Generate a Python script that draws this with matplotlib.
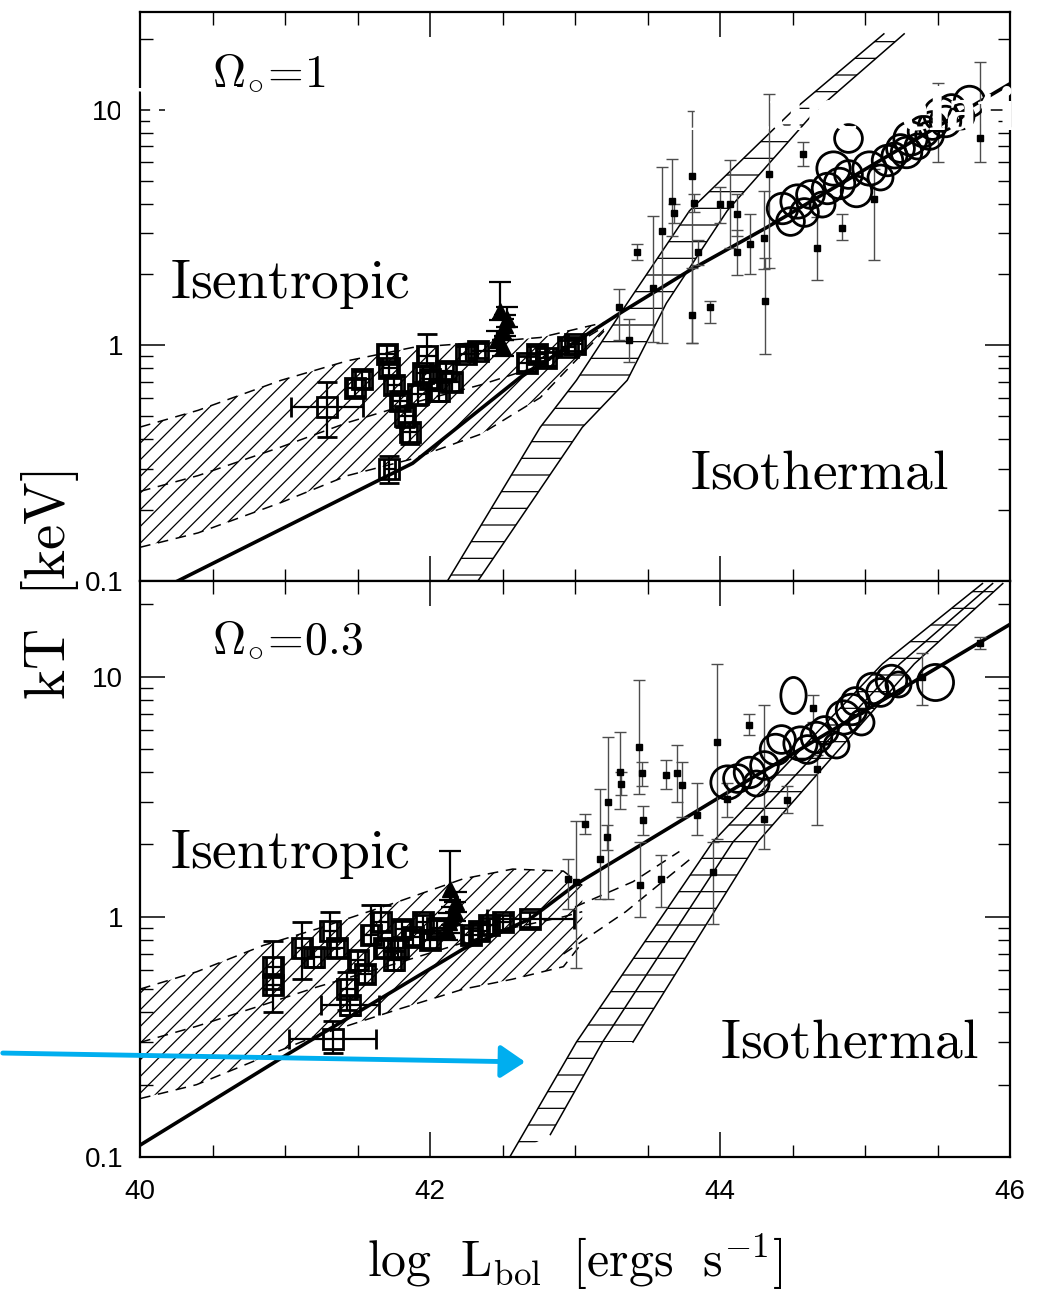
import numpy as np
import matplotlib
matplotlib.use("Agg")
import matplotlib.pyplot as plt
from matplotlib.ticker import MultipleLocator, LogLocator, NullFormatter
from matplotlib.patches import FancyArrowPatch, Polygon
from matplotlib.path import Path
from matplotlib.transforms import Affine2D

plt.rcParams['mathtext.fontset'] = 'cm'
plt.rcParams['hatch.linewidth'] = 0.9
tickfont = ['Liberation Sans Narrow', 'Liberation Sans', 'DejaVu Sans']

# ---------------- top panel (Omega_0 = 1) ----------------
fit_top_L = [40.26, 41.88, 42.62, 43.31, 43.79, 44.32, 46.0]
fit_top_T = [0.10, 0.316, 0.73, 1.37, 2.08, 3.16, 12.9]

ise_top_L = [40.0, 40.4, 40.97, 41.43, 41.88, 42.35, 42.76, 43.2]
ise_top_hi = [0.45, 0.53, 0.71, 0.86, 0.98, 1.03, 1.08, 1.25]
ise_top_mid = [0.24, 0.28, 0.37, 0.47, 0.57, 0.68, 0.82, 1.2]
ise_top_lo = [0.139, 0.16, 0.215, 0.28, 0.33, 0.42, 0.60, 1.15]

iso_top_T = [0.1, 0.449, 0.711, 1.51, 3.73, 9.9, 21.0]
iso_top_left = [42.12, 42.76, 43.01, 43.36, 43.79, 44.50, 45.13]
iso_top_right = [42.33, 43.05, 43.36, 43.63, 44.05, 44.66, 45.27]

sq_top_L = [41.29, 41.48, 41.53, 41.70, 41.72, 41.75, 41.79, 41.83, 41.86, 41.72, 41.98, 42.00,
            42.06, 42.11, 42.15, 41.92, 41.95, 42.25, 42.33, 42.67, 42.74, 42.80, 42.95, 43.00]
sq_top_T = [0.55, 0.66, 0.72, 0.92, 0.80, 0.68, 0.58, 0.50, 0.43, 0.30, 0.90, 0.72,
            0.64, 0.78, 0.70, 0.62, 0.76, 0.92, 0.95, 0.84, 0.92, 0.88, 0.98, 1.01]
sq_top_xerr = [0.25, 0.05, 0.05, 0.06, 0.05, 0.05, 0.05, 0.05, 0.05, 0.04, 0.06, 0.05,
               0.05, 0.05, 0.05, 0.05, 0.05, 0.05, 0.05, 0.06, 0.05, 0.05, 0.05, 0.05]
sq_top_lo = [0.41, 0.61, 0.66, 0.84, 0.74, 0.62, 0.53, 0.45, 0.38, 0.26, 0.82, 0.66,
             0.58, 0.72, 0.64, 0.56, 0.70, 0.86, 0.88, 0.78, 0.86, 0.82, 0.92, 0.95]
sq_top_hi = [0.70, 0.72, 0.78, 1.00, 0.86, 0.74, 0.63, 0.55, 0.47, 0.34, 1.12, 0.78,
             0.70, 0.84, 0.76, 0.68, 0.82, 0.99, 1.02, 0.90, 0.99, 0.94, 1.05, 1.08]

tri_top_L = [42.46, 42.50, 42.53, 42.48, 42.52, 42.50]
tri_top_T = [1.05, 1.15, 1.30, 1.40, 1.22, 0.98]
tri_top_lo = [0.95, 1.05, 1.20, 1.28, 1.10, 0.90]
tri_top_hi = [1.15, 1.30, 1.45, 1.85, 1.35, 1.05]

pt_top_L = [43.30, 43.37, 43.43, 43.54, 43.60, 43.67, 43.68, 43.81, 43.82, 43.81, 43.85, 43.93, 44.00,
            44.07, 44.12, 44.12, 44.21, 44.30, 44.31, 44.34, 44.57, 44.67, 44.84, 45.06, 45.50, 45.79]
pt_top_T = [1.45, 1.05, 2.48, 1.76, 3.07, 4.12, 3.66, 5.25, 4.04, 1.34, 2.48, 1.45, 4.0,
            4.0, 3.6, 2.48, 2.7, 2.87, 1.55, 5.35, 6.5, 2.6, 3.16, 4.2, 9.0, 7.6]
pt_top_lo = [1.05, 0.85, 2.3, 1.03, 1.02, 2.9, 3.3, 1.02, 3.7, 1.02, 2.2, 1.24, 3.3,
             2.6, 2.9, 1.98, 2.0, 2.1, 0.92, 2.14, 5.8, 1.9, 2.8, 2.3, 6.0, 6.0]
pt_top_hi = [1.74, 1.3, 2.7, 3.55, 5.7, 6.2, 4.0, 9.9, 4.4, 2.14, 2.8, 1.55, 4.7,
             6.1, 4.4, 3.1, 3.6, 4.5, 2.36, 11.7, 7.3, 3.5, 3.6, 5.6, 13.0, 16.0]

circ_top_L = [44.43, 44.48, 44.53, 44.62, 44.70, 44.74, 44.78, 44.88, 44.94, 45.03, 45.10,
              45.15, 45.24, 45.31, 45.36, 45.40, 45.46, 45.52, 45.59, 45.66, 45.72, 44.88,
              44.58, 44.82, 45.20, 45.28, 45.44, 45.55]
circ_top_T = [3.84, 3.38, 4.12, 4.4, 4.0, 4.67, 5.67, 5.35, 4.5, 5.67, 5.2,
              6.1, 6.9, 7.6, 7.0, 8.1, 8.6, 9.6, 10.2, 9.4, 10.9, 7.6,
              3.7, 4.9, 6.4, 6.6, 7.8, 9.0]
circ_top_size = [22, 20, 24, 20, 18, 22, 24, 20, 22, 24, 18, 22, 20, 24, 18, 22, 20, 24, 20, 18, 22, 20,
                 20, 22, 18, 22, 20, 22]

# ---------------- bottom panel (Omega_0 = 0.3) ----------------
fit_bot_L = [40.0, 41.01, 42.23, 42.69, 43.01, 43.98, 46.0]
fit_bot_T = [0.112, 0.266, 0.735, 0.98, 1.37, 3.1, 16.5]

ise_bot_L = [40.0, 40.39, 40.85, 41.22, 41.77, 42.23, 42.57, 42.92, 43.05]
ise_bot_hi = [0.50, 0.59, 0.76, 0.89, 1.15, 1.44, 1.58, 1.55, 1.35]
ise_bot_mid = [0.30, 0.35, 0.43, 0.51, 0.64, 0.78, 0.90, 1.00, 1.05]
ise_bot_lo = [0.175, 0.20, 0.26, 0.32, 0.41, 0.50, 0.55, 0.62, 0.78]
ise_bot_ext1_L = [42.92, 43.35, 43.80]
ise_bot_ext1_T = [0.70, 1.05, 1.75]
ise_bot_ext2_L = [43.00, 43.40, 43.72]
ise_bot_ext2_T = [1.10, 1.40, 1.87]

iso_bot_T = [0.1, 0.301, 2.05, 11.3, 24.4]
iso_bot_left = [42.55, 43.01, 43.95, 45.12, 45.81]
iso_bot_mid_T = [0.124, 0.301, 2.05, 11.3, 24.4]
iso_bot_mid_L = [42.83, 43.19, 44.09, 45.24, 45.88]
iso_bot_right_T = [0.301, 2.05, 11.3, 24.4]
iso_bot_right_L = [43.40, 44.26, 45.34, 45.95]

sq_bot_L = [40.92, 40.92, 41.12, 41.31, 41.36, 41.43, 41.33, 41.45, 41.59, 41.66, 41.68, 41.78,
            41.81, 41.95, 42.00, 42.05, 41.50, 41.55, 42.34, 42.41, 42.50, 42.69, 41.20, 41.75,
            41.88, 42.28]
sq_bot_T = [0.62, 0.52, 0.74, 0.87, 0.74, 0.50, 0.31, 0.43, 0.84, 0.95, 0.74, 0.74,
            0.89, 0.95, 0.80, 0.90, 0.66, 0.58, 0.87, 0.92, 0.95, 0.98, 0.68, 0.66,
            0.82, 0.84]
sq_bot_xerr = [0.05, 0.05, 0.05, 0.05, 0.05, 0.05, 0.30, 0.20, 0.05, 0.05, 0.05, 0.05,
               0.05, 0.05, 0.05, 0.05, 0.05, 0.05, 0.05, 0.05, 0.05, 0.30, 0.05, 0.05,
               0.05, 0.05]
sq_bot_lo = [0.50, 0.40, 0.55, 0.74, 0.68, 0.41, 0.27, 0.39, 0.77, 0.87, 0.68, 0.68,
             0.82, 0.88, 0.74, 0.83, 0.60, 0.53, 0.80, 0.85, 0.88, 0.91, 0.62, 0.60,
             0.76, 0.78]
sq_bot_hi = [0.79, 0.58, 0.95, 1.05, 0.80, 0.59, 0.37, 0.47, 1.12, 1.12, 0.80, 0.80,
             0.96, 1.02, 0.86, 0.97, 0.72, 0.63, 0.94, 0.99, 1.02, 1.05, 0.74, 0.72,
             0.88, 0.90]

tri_bot_L = [42.12, 42.15, 42.18, 42.14, 42.17, 42.13]
tri_bot_T = [0.88, 1.00, 1.15, 1.30, 1.05, 0.95]
tri_bot_lo = [0.80, 0.92, 1.05, 1.18, 0.96, 0.86]
tri_bot_hi = [0.96, 1.10, 1.27, 1.87, 1.15, 1.04]

pt_bot_L = [42.95, 43.01, 43.07, 43.17, 43.22, 43.23, 43.31, 43.32, 43.44, 43.46, 43.47, 43.45, 43.59,
            43.63, 43.70, 43.74, 43.84, 43.95, 43.98, 44.05, 44.20, 44.30, 44.46, 44.64, 44.67, 45.39, 45.79]
pt_bot_T = [1.44, 1.40, 2.44, 1.74, 2.15, 3.01, 4.02, 3.58, 5.1, 3.95, 2.53, 1.36, 1.44,
            3.9, 3.95, 3.55, 2.66, 1.54, 5.36, 3.1, 6.3, 2.56, 3.07, 7.4, 4.14, 10.0, 13.8]
pt_bot_lo = [1.08, 0.61, 2.22, 1.19, 1.9, 1.19, 2.8, 3.2, 3.25, 3.5, 2.2, 1.0, 1.1,
             3.4, 3.0, 2.6, 2.2, 0.93, 2.1, 2.6, 5.7, 1.92, 2.7, 6.5, 2.4, 7.6, 13.0]
pt_bot_hi = [1.74, 2.5, 2.68, 3.4, 2.4, 5.6, 5.9, 4.0, 9.7, 4.4, 2.9, 2.05, 1.8,
             4.5, 5.2, 4.4, 3.6, 2.05, 11.3, 3.6, 7.0, 7.6, 3.5, 8.4, 4.7, 12.5, 14.6]

circ_bot_L = [44.05, 44.12, 44.20, 44.25, 44.30, 44.38, 44.42, 44.55, 44.60, 44.66, 44.72,
              44.80, 44.85, 44.90, 44.93, 44.97, 45.05, 45.10, 45.18, 45.23, 45.48]
circ_bot_T = [3.65, 3.8, 4.0, 3.6, 4.3, 5.0, 5.5, 5.3, 5.0, 5.6, 6.0,
              5.2, 6.8, 7.3, 7.9, 6.5, 9.0, 8.6, 9.7, 9.3, 9.5]
circ_bot_size = [24, 20, 22, 18, 20, 22, 20, 24, 20, 22, 20, 18, 24, 22, 20, 18, 22, 20, 22, 18, 26]
oval_bot_L = [44.50]
oval_bot_T = [8.4]

y_ticks = [0.1, 1, 10]
y_ticklabels = ['0.1', '1', '10']
x_ticks = [40, 42, 44, 46]


def err(T, lo, hi):
    T, lo, hi = np.array(T), np.array(lo), np.array(hi)
    return [T - lo, hi - T]


def style_axis(ax, ytop):
    ax.set_yscale('log')
    ax.set_xlim(40, 46)
    ax.set_ylim(0.1, ytop)
    ax.set_xticks(x_ticks)
    ax.xaxis.set_minor_locator(MultipleLocator(0.5))
    ax.set_yticks(y_ticks, y_ticklabels)
    ax.yaxis.set_minor_locator(LogLocator(subs=np.arange(2, 10)))
    ax.yaxis.set_minor_formatter(NullFormatter())
    ax.tick_params(which='both', direction='in', top=True, right=True, color='k')
    ax.tick_params(which='major', length=18, width=1.1)
    ax.tick_params(which='minor', length=9, width=1.0)
    ax.tick_params(axis='y', pad=12)
    ax.tick_params(axis='x', pad=16)
    for lab in ax.get_xticklabels() + ax.get_yticklabels():
        lab.set_family(tickfont)
        lab.set_fontsize(20)
    for s in ax.spines.values():
        s.set_linewidth(1.6)


def draw_isentropic(ax, L, lo, mid, hi):
    ax.fill_between(L, lo, hi, facecolor='none', edgecolor='k', hatch='//', lw=0, zorder=1)
    for y in (lo, mid, hi):
        ax.plot(L, y, color='k', lw=1.1, ls=(0, (7, 5)), zorder=2)


def draw_points(ax, sqL, sqT, sqx, sqlo, sqhi, tL, tT, tlo, thi, pL, pT, plo, phi, cL, cT, cs):
    ax.errorbar(pL, pT, yerr=err(pT, plo, phi), fmt='s', ms=4, color='k', ecolor='0.3',
                elinewidth=1.0, capsize=4, capthick=1.0, zorder=4)
    ax.errorbar(sqL, sqT, xerr=sqx, yerr=err(sqT, sqlo, sqhi), fmt='s', ms=15, mfc='none',
                mec='k', mew=2.0, ecolor='k', elinewidth=1.6, capsize=7, capthick=1.6, zorder=5)
    ax.errorbar(tL, tT, yerr=err(tT, tlo, thi), fmt='^', ms=12, color='k', ecolor='k',
                elinewidth=1.6, capsize=8, capthick=1.6, zorder=5)
    for x, y, s in zip(cL, cT, cs):
        ax.plot(x, y, 'o', ms=s, mfc='none', mec='k', mew=2.0, zorder=5)


fig = plt.figure(figsize=(10.47, 12.91), dpi=100)
ax_top = fig.add_axes([0.13372, 0.54996, 0.83095, 0.44074])
ax_bot = fig.add_axes([0.13372, 0.10380, 0.83095, 0.44616])

# ---- top panel
ax = ax_top
draw_isentropic(ax, ise_top_L, ise_top_lo, ise_top_mid, ise_top_hi)
poly = list(zip(iso_top_left, iso_top_T)) + list(zip(iso_top_right[::-1], iso_top_T[::-1]))
ax.add_patch(Polygon(poly, closed=True, facecolor='none', edgecolor='k', hatch='-', lw=0, zorder=1))
ax.plot(iso_top_left, iso_top_T, color='k', lw=1.1, zorder=2)
ax.plot(iso_top_right, iso_top_T, color='k', lw=1.1, zorder=2)
ax.plot(fit_top_L, fit_top_T, color='k', lw=2.6, zorder=3)
draw_points(ax, sq_top_L, sq_top_T, sq_top_xerr, sq_top_lo, sq_top_hi,
            tri_top_L, tri_top_T, tri_top_lo, tri_top_hi,
            pt_top_L, pt_top_T, pt_top_lo, pt_top_hi, circ_top_L, circ_top_T, circ_top_size)
style_axis(ax, 26)
ax.tick_params(axis='x', labelbottom=False)
ax.text(0.083, 0.872, r'$\Omega_{\circ}\!=\!1$', transform=ax.transAxes, fontsize=33, va='baseline')
ax.text(0.0345, 0.497, r'$\mathrm{Isentropic}$', transform=ax.transAxes, fontsize=40, va='baseline')
ax.text(0.632, 0.163, r'$\mathrm{Isothermal}$', transform=ax.transAxes, fontsize=40, va='baseline')

# ---- bottom panel
ax = ax_bot
draw_isentropic(ax, ise_bot_L, ise_bot_lo, ise_bot_mid, ise_bot_hi)
ax.plot(ise_bot_ext1_L, ise_bot_ext1_T, color='k', lw=1.1, ls=(0, (7, 5)), zorder=2)
ax.plot(ise_bot_ext2_L, ise_bot_ext2_T, color='k', lw=1.1, ls=(0, (7, 5)), zorder=2)
poly = (list(zip(iso_bot_left, iso_bot_T)) + list(zip(iso_bot_right_L[::-1], iso_bot_right_T[::-1]))
        + list(zip(iso_bot_mid_L[1::-1], iso_bot_mid_T[1::-1])))
ax.add_patch(Polygon(poly, closed=True, facecolor='none', edgecolor='k', hatch='-', lw=0, zorder=1))
ax.plot(iso_bot_left, iso_bot_T, color='k', lw=1.1, zorder=2)
ax.plot(iso_bot_mid_L, iso_bot_mid_T, color='k', lw=1.1, zorder=2)
ax.plot(iso_bot_right_L, iso_bot_right_T, color='k', lw=1.1, zorder=2)
ax.plot(fit_bot_L, fit_bot_T, color='k', lw=2.6, zorder=3)
draw_points(ax, sq_bot_L, sq_bot_T, sq_bot_xerr, sq_bot_lo, sq_bot_hi,
            tri_bot_L, tri_bot_T, tri_bot_lo, tri_bot_hi,
            pt_bot_L, pt_bot_T, pt_bot_lo, pt_bot_hi, circ_bot_L, circ_bot_T, circ_bot_size)
oval = Path.unit_circle().transformed(Affine2D().scale(0.7, 1.0))
ax.plot(oval_bot_L, oval_bot_T, ls='none', marker=oval, ms=26, mfc='none', mec='k', mew=2.0, zorder=5)
style_axis(ax, 25)
ax.text(0.083, 0.877, r'$\Omega_{\circ}\!=\!0.3$', transform=ax.transAxes, fontsize=33, va='baseline')
ax.text(0.0345, 0.502, r'$\mathrm{Isentropic}$', transform=ax.transAxes, fontsize=40, va='baseline')
ax.text(0.667, 0.172, r'$\mathrm{Isothermal}$', transform=ax.transAxes, fontsize=40, va='baseline')

fig.text(50 / 1047, 1 - 585 / 1291, r'$\mathrm{kT\ \ [keV]}$', rotation=90, fontsize=41,
         ha='center', va='center')
fig.text(575 / 1047, 1 - 1262 / 1291, r'$\mathrm{log\ \ L_{bol}\ \ [ergs\ \ s^{-1}]}$', fontsize=36,
         ha='center', va='center')

# overlaid white title text (partly hidden, as in the source image)
fig.text(104 / 1047, 1 - 130 / 1291, 'The luminosity-temperature relation', color='white',
         fontsize=45, fontweight='bold', family='Liberation Serif', ha='left', va='baseline', zorder=20)

arrow = FancyArrowPatch((0.0, 1 - 1053 / 1291), (528 / 1047, 1 - 1062 / 1291), transform=fig.transFigure,
                        arrowstyle='-|>,head_length=0.6,head_width=0.4', mutation_scale=25,
                        color='#00AEEF', lw=3.5, zorder=20)
fig.add_artist(arrow)

fig.savefig('out.png', dpi=100)
